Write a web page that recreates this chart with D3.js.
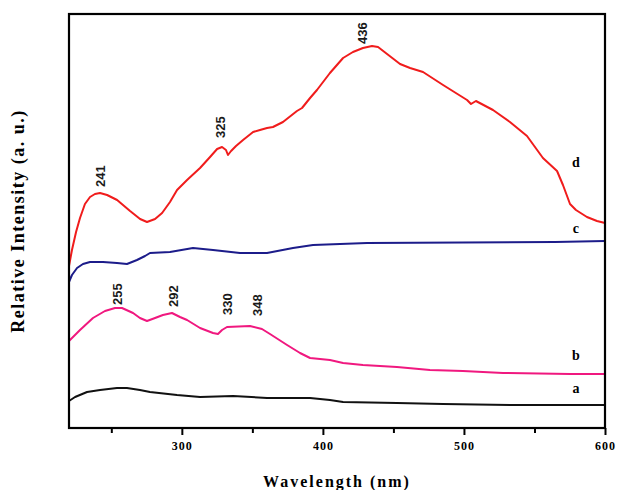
<!DOCTYPE html>
<html lang="en">
<head>
  <meta charset="utf-8">
  <title>Relative Intensity vs Wavelength</title>
  <script src="https://d3js.org/d3.v7.min.js"></script>
  <style>
    body { margin: 0; background: #fff; }
    .tick text { font-family: "Liberation Serif", "Times New Roman", serif; font-weight: bold; font-size: 12px; letter-spacing: 1px; }
  </style>
</head>
<body>
<svg width="619" height="490"></svg>
<script>

// wavelength (nm) and intensity (a.u.)
var curveA = [[220,27],[224.3,31],[232.8,36],[242,38],[254,40],[261.1,40],[270.3,38],[277.4,36],[296.6,33],
  [312.9,31],[336.3,32],[360.4,30],[390.9,30],[405,28],[414.3,26],[452.5,25],[485.2,24],[532.6,23],[600,23]];

var curveB = [[220,87],[227.8,98],[237,110],[245.5,117],[252.6,120],[257.6,120],[265.4,115],[270.3,110],
  [275.3,107],[281,110],[286.6,113],[293,115],[298.7,111],[303.7,108],[312.9,100],[322.1,95],[325.6,94],
  [328.5,98],[332,101],[348.3,102],[356.8,99],[362.5,94],[374.6,83],[383.8,75],[390.9,70],[405,68],
  [414.3,65],[428.4,63],[452.5,61],[475.9,58],[499.3,57],[527.7,55],[575.2,54],[600,54]];

var curveC = [[220,146],[222.1,153],[225.7,160],[229.9,164],[234.9,166],[244.1,166],[254,165],[261.1,164],
  [268.2,168],[273.9,172],[277.4,175],[291.6,176],[307.9,180],[322.1,178],[341.2,175],[360.4,175],
  [378.8,180],[393,183],[412.2,184],[431.3,185],[564.6,186],[600,187]];

var curveD = [[220,162],[222.1,178],[225,196],[227.8,210],[231.3,224],[234.9,231],[238.4,234],[242,235],
  [247,233],[254.1,228],[263.3,217],[270.4,209],[275.3,206],[281,209],[286,215],[291.6,226],[296.6,238],
  [303.7,248],[312.9,260],[320,271],[325,279],[328.5,281],[331.3,278],[332.7,273],[334.9,277],[338.4,282],
  [343.4,288],[350.5,296],[355.4,298],[360.4,300],[364.6,301],[371.7,306],[381.6,317],[385.2,320],
  [390.9,330],[395.8,338],[405,355],[414.3,370],[421.3,376],[428.4,380],[434.8,382],[439.1,381],
  [445.5,374],[454.7,364],[461.8,360],[471,356],[485.2,343],[502.2,328],[505,324],[508.5,327],
  [520.6,318],[532.6,306],[544.7,292],[556,270],[566,257],[570.2,243],[575.2,224],[579.4,218],
  [587.2,211],[594.3,207],[600,205]];

var seriesNames = ["a", "b", "c", "d"];
var seriesColors = ["#111111", "#f0187f", "#1c1c8a", "#f01c1c"];
var seriesLabelPos = [[579.4, 40], [579.4, 73], [579.4, 200], [579.4, 266]];

// peak annotations: text, wavelength, intensity at the foot of the label
var peakLabels = [["241", 242, 241], ["325", 327.1, 290], ["436", 427.7, 384],
  ["255", 254, 123], ["292", 293.7, 121], ["330", 332, 113], ["348", 353.3, 112]];

var majorTicks = [300, 400, 500, 600];
var minorTicks = [250, 350, 450, 550];

var svg = d3.select("svg");

var x = d3.scaleLinear().domain([220, 600]).range([69, 605]);
var y = d3.scaleLinear().domain([0, 414]).range([428, 14]);

var line = d3.line()
    .x(function(d) { return x(d[0]); })
    .y(function(d) { return y(d[1]); });

var curves = [curveA, curveB, curveC, curveD];

svg.append("g").selectAll("path")
    .data(curves)
  .enter().append("path")
    .attr("d", line)
    .attr("fill", "none")
    .attr("stroke", function(d, i) { return seriesColors[i]; })
    .attr("stroke-width", 2)
    .attr("stroke-linejoin", "round");

// bottom axis, major + minor ticks
svg.append("g")
    .attr("transform", "translate(0,428)")
    .call(d3.axisBottom(x).tickValues(majorTicks).tickSize(7).tickPadding(6).tickFormat(d3.format("d")));
svg.append("g")
    .attr("transform", "translate(0,428)")
    .call(d3.axisBottom(x).tickValues(minorTicks).tickSize(5).tickFormat(""));
svg.selectAll(".domain").remove();
svg.selectAll(".tick line").attr("stroke", "#000").attr("stroke-width", 2);

// frame
svg.append("rect")
    .attr("x", x(220)).attr("y", y(414))
    .attr("width", x(600) - x(220)).attr("height", y(0) - y(414))
    .attr("fill", "none").attr("stroke", "#000").attr("stroke-width", 2.2);

svg.append("g").selectAll("text")
    .data(seriesNames)
  .enter().append("text")
    .attr("x", function(d, i) { return x(seriesLabelPos[i][0]); })
    .attr("y", function(d, i) { return y(seriesLabelPos[i][1]); })
    .attr("dy", "0.35em")
    .attr("text-anchor", "middle")
    .style("font-family", "'Liberation Serif', 'Times New Roman', serif")
    .style("font-weight", "bold")
    .style("font-size", "14px")
    .text(function(d) { return d; });

svg.append("g").selectAll("text")
    .data(peakLabels)
  .enter().append("text")
    .attr("transform", function(d) { return "translate(" + x(d[1]) + "," + y(d[2]) + ") rotate(-90)"; })
    .attr("dy", "0.35em")
    .style("font-family", "'Liberation Sans', Arial, sans-serif")
    .style("font-weight", "bold")
    .style("font-size", "13px")
    .style("fill", "#1a1a1a")
    .text(function(d) { return d[0]; });

svg.append("text")
    .attr("x", (x(220) + x(600)) / 2)
    .attr("y", 487)
    .attr("text-anchor", "middle")
    .style("font-family", "'Liberation Serif', 'Times New Roman', serif")
    .style("font-weight", "bold")
    .style("font-size", "16px")
    .style("letter-spacing", "2px")
    .text("Wavelength (nm)");

svg.append("text")
    .attr("transform", "translate(18," + (y(0) + y(414)) / 2 + ") rotate(-90)")
    .attr("dy", "0.35em")
    .attr("text-anchor", "middle")
    .style("font-family", "'Liberation Serif', 'Times New Roman', serif")
    .style("font-weight", "bold")
    .style("font-size", "18px")
    .style("letter-spacing", "1.5px")
    .text("Relative Intensity (a. u.)");

</script>
</body>
</html>
